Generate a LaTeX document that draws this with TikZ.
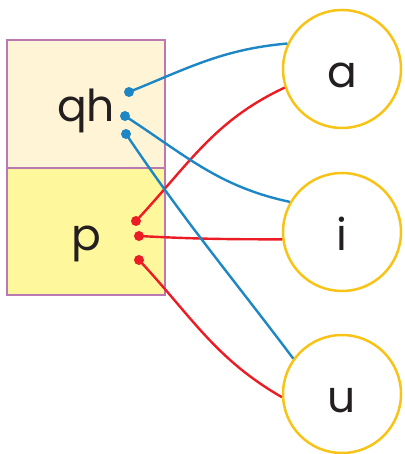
\documentclass[tikz,border=0pt]{standalone}
\usepackage{fontspec}
\setmainfont{Poppins}
\usetikzlibrary{positioning}
\definecolor{Ink}{HTML}{231F20}
\definecolor{Mauve}{HTML}{BC78B3}
\definecolor{Cream}{HTML}{FFF4D6}
\definecolor{Lemon}{HTML}{FFF79C}
\definecolor{Gold}{HTML}{F8C317}
\definecolor{Blue}{HTML}{1D87C5}
\definecolor{Red}{HTML}{EC1C24}

\begin{document}
\begin{tikzpicture}[x=1pt,y=1pt,
    every node/.style={font=\fontsize{44}{44}\selectfont,text=Ink},
    part/.style={draw=Mauve,line width=1.6pt,minimum width=158pt,inner sep=0pt},
    vowel/.style={circle,draw=Gold,line width=2.5pt,minimum size=118pt,inner sep=0pt},
    dot/.style={circle,fill=#1,inner sep=0pt,minimum size=10pt},
    link/.style={line width=2.4pt,#1}]
  \useasboundingbox (0,0) rectangle (404,454);
  % the two halves of the box
  \node[part,fill=Cream,minimum height=128pt] (top) at (86,350) {};
  \node[part,fill=Lemon,minimum height=127pt] (bottom) at (86,222.5) {};
  \node[anchor=base] (qh) at (86,332) {qh};
  \node[anchor=base] (p) at (86,203) {p};
  % vowels
  \foreach \name/\y in {a/385,i/222,u/60}{
    \node[vowel] (\name) at (342,\y) {};
    \node[anchor=base] (\name txt) at ([yshift=-18.5pt]\name.center) {\name};
  }
  % end points
  \node[dot=Blue] (qh1) at (129,362) {};
  \node[dot=Blue] (qh2) at (125,338) {};
  \node[dot=Blue] (qh3) at (126,320) {};
  \node[dot=Red] (p1) at (136,233) {};
  \node[dot=Red] (p2) at (139,218) {};
  \node[dot=Red] (p3) at (139,194) {};
  % links
  \draw[link=Blue] (qh1.center) to[out=22,in=185] (a.155);
  \draw[link=Red] (p1.center) to[out=47,in=205] (a.198);
  \draw[link=Blue] (qh2.center) to[out=-33,in=168] (i.150);
  \draw[link=Red] (p2.center) to[out=-3,in=180] (i.187);
  \draw[link=Blue] (qh3.center) to[out=-56,in=127] (u.144);
  \draw[link=Red] (p3.center) to[out=-47,in=150] (u.183);
\end{tikzpicture}
\end{document}
